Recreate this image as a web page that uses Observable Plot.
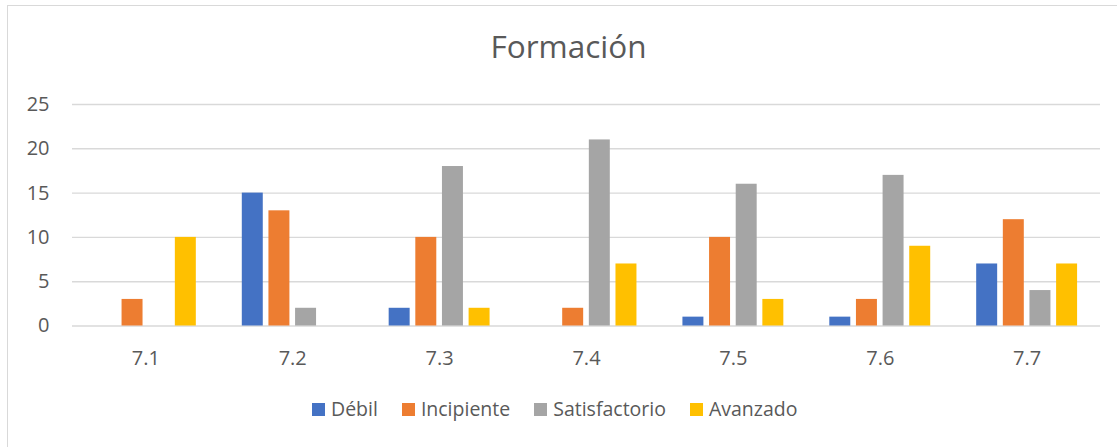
<!DOCTYPE html>
<html>
<head>
<meta charset="utf-8">
<script src="https://cdn.jsdelivr.net/npm/d3@7"></script>
<script src="https://cdn.jsdelivr.net/npm/@observablehq/plot@0.6"></script>
<style>
  html, body { margin: 0; padding: 0; background: #fff; }
  #page { position: relative; width: 1117px; height: 447px; overflow: hidden; font-family: "Open Sans", sans-serif; color: #595959; }
  #frame { position: absolute; left: 7px; top: 5px; width: 1110px; height: 442px; border-top: 1.5px solid #D9D9D9; border-left: 1.5px solid #D9D9D9; box-sizing: border-box; }
  #title { position: absolute; left: 0; width: 1137px; top: 26px; text-align: center; font-size: 31.5px; line-height: 40px; }
  #chart { position: absolute; left: 0; top: 80px; }
  #legend { position: absolute; left: 312px; top: 396px; display: flex; align-items: center; font-size: 19.5px; line-height: 26px; white-space: nowrap; }
  .item { display: flex; align-items: center; margin-right: 24px; }
  .sw { width: 13px; height: 13px; margin-right: 6px; }
</style>
</head>
<body>
<div id="page">
  <div id="frame"></div>
  <div id="title">Formación</div>
  <div id="chart"></div>
  <div id="legend"></div>
</div>
<script>
const categories = ["7.1", "7.2", "7.3", "7.4", "7.5", "7.6", "7.7"];
const series = ["Débil", "Incipiente", "Satisfactorio", "Avanzado"];
const debil = [0, 15, 2, 0, 1, 1, 7];
const incipiente = [3, 13, 10, 2, 10, 3, 12];
const satisfactorio = [0, 2, 18, 21, 16, 17, 4];
const avanzado = [10, 0, 2, 7, 3, 9, 7];
const colors = ["#4472C4", "#ED7D31", "#A5A5A5", "#FFC000"];
const yTicks = [0, 5, 10, 15, 20, 25];

const valuesBySeries = [debil, incipiente, satisfactorio, avanzado];
const rows = series.flatMap((s, i) =>
  categories.map((c, j) => ({category: c, series: s, value: valuesBySeries[i][j]}))
);

const width = 1117, height = 290;
const marginLeft = 72, marginRight = 17, marginTop = 24, marginBottom = 44.5;
const paddingInner = 0.313, paddingOuter = 0.156;
const plotW = width - marginLeft - marginRight;
const step = plotW / (categories.length - paddingInner + 2 * paddingOuter);
const bw = step * (1 - paddingInner);
const gapRatio = 0.27;
const barW = bw / (series.length + (series.length - 1) * gapRatio);
const slot = barW * (1 + gapRatio);

const plot = Plot.plot({
  width, height, marginLeft, marginRight, marginTop, marginBottom,
  style: {background: "transparent", fontFamily: "Open Sans, sans-serif", fontSize: "20px", color: "#595959", overflow: "visible"},
  x: {type: "band", domain: categories, paddingInner, paddingOuter, round: false, tickSize: 0, tickPadding: 25, label: null},
  y: {domain: [0, 25], ticks: yTicks, tickSize: 0, tickPadding: 23, label: null},
  marks: [
    Plot.ruleY(yTicks, {stroke: "#D9D9D9", strokeWidth: 1.4}),
    ...series.map((s, i) => Plot.barY(rows.filter(d => d.series === s && d.value > 0), {
      x: "category", y: "value", fill: colors[i],
      insetLeft: i * slot, insetRight: (series.length - 1 - i) * slot
    }))
  ]
});
document.getElementById("chart").appendChild(plot);

const legend = document.getElementById("legend");
series.forEach((s, i) => {
  const item = document.createElement("div");
  item.className = "item";
  const sw = document.createElement("span");
  sw.className = "sw";
  sw.style.background = colors[i];
  const label = document.createElement("span");
  label.textContent = s;
  item.appendChild(sw);
  item.appendChild(label);
  legend.appendChild(item);
});
</script>
</body>
</html>
